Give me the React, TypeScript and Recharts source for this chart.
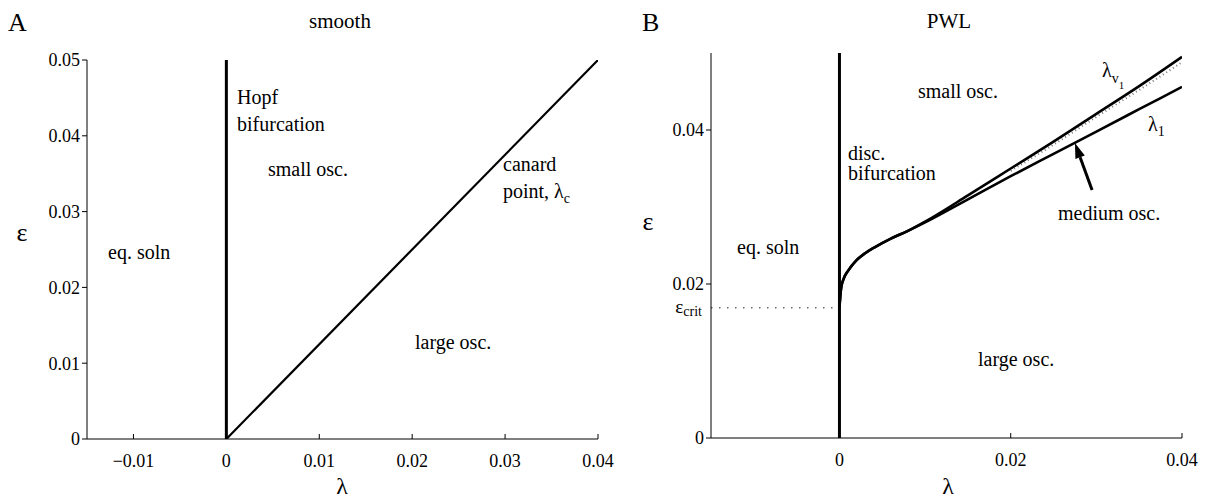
import React from "react";
import { LineChart, Line, XAxis, YAxis, ReferenceLine } from "recharts";

const SERIF = "Liberation Serif, DejaVu Serif, serif";

// panel A, smooth system
const smoothXTicks = [-0.01, 0, 0.01, 0.02, 0.03, 0.04];
const smoothYTicks = [0, 0.01, 0.02, 0.03, 0.04, 0.05];
const hopfLam = [0, 0];
const hopfEps = [0, 0.05];
const canardLam = [0, 0.04];
const canardEps = [0, 0.05];

// panel B, piecewise linear system
const pwlXTicks = [0, 0.02, 0.04];
const pwlYTicks = [0, 0.02, 0.04];
const discLam = [0, 0];
const discEps = [0, 0.05];
const epsCrit = 0.0169;
const critLam = [-0.015, 0];

const v1Lam = [0, 0.0002, 0.0005, 0.001, 0.002, 0.003, 0.004, 0.006, 0.008, 0.01, 0.015, 0.02, 0.025, 0.03, 0.035, 0.04];
const v1Eps = [0.017, 0.0195, 0.0207, 0.0217, 0.0231, 0.024, 0.0247, 0.0259, 0.0269, 0.0281, 0.0315, 0.035, 0.0385, 0.0421, 0.0457, 0.0495];

const l1Lam = [0, 0.0002, 0.0005, 0.001, 0.002, 0.003, 0.004, 0.006, 0.008, 0.01, 0.015, 0.02, 0.025, 0.03, 0.035, 0.04];
const l1Eps = [0.017, 0.0195, 0.0207, 0.0217, 0.0231, 0.024, 0.0247, 0.0259, 0.0269, 0.028, 0.031, 0.034, 0.0369, 0.0398, 0.0427, 0.0456];

const v1DotLam = [0.02, 0.025, 0.03, 0.035, 0.04];
const v1DotEps = [0.0347, 0.0381, 0.0417, 0.0452, 0.0488];

const arrowTail = { lam: 0.0295, eps: 0.0322 };
const arrowTip = { lam: 0.0275, eps: 0.0383 };

const zip = (lam: number[], eps: number[]) => lam.map((l, i) => ({ lam: l, eps: eps[i] }));

const fmt = (v: number) => (v === 0 ? "0" : v < 0 ? "\u2212" + Math.abs(v).toFixed(2) : v.toFixed(2));

const TICK_MARGIN = 10;

function BottomTick(props: any) {
  const { x, y, payload } = props;
  const axisY = y - TICK_MARGIN;
  return (
    <g>
      <line x1={x} y1={axisY} x2={x} y2={axisY - 5} stroke="#000" strokeWidth={1} />
      <text x={x} y={axisY + 28} textAnchor="middle" style={{ fontFamily: SERIF }} fontSize={18} fill="#000">
        {fmt(payload.value)}
      </text>
    </g>
  );
}

function ArrowShape(props: any) {
  const { x1, y1, x2, y2 } = props;
  const ang = Math.atan2(y2 - y1, x2 - x1);
  const len = 15;
  const half = 5;
  const bx = x2 - len * Math.cos(ang);
  const by = y2 - len * Math.sin(ang);
  const px = -Math.sin(ang) * half;
  const py = Math.cos(ang) * half;
  return (
    <g>
      <line x1={x1} y1={y1} x2={bx} y2={by} stroke="#000" strokeWidth={3} />
      <polygon points={`${x2},${y2} ${bx + px},${by + py} ${bx - px},${by - py}`} fill="#000" />
    </g>
  );
}

const yTick = { fontSize: 18, fontFamily: SERIF, fill: "#000" };

function Ann({ x, y, children, size = 20, anchor = "start" }: any) {
  return (
    <text x={x} y={y} style={{ fontFamily: SERIF }} fontSize={size} fill="#000" textAnchor={anchor}>
      {children}
    </text>
  );
}

export default function App() {
  return (
    <div style={{ position: "absolute", left: 0, top: 0, width: 1205, height: 501, background: "#fff", overflow: "hidden", fontFamily: SERIF }}>
      <div style={{ position: "absolute", left: 0, top: 0 }}>
        <LineChart width={640} height={501} margin={{ top: 60, right: 42, bottom: 22, left: 27 }}>
          <XAxis
            type="number" dataKey="lam" domain={[-0.015, 0.04]} ticks={smoothXTicks} interval={0}
            allowDataOverflow height={40} tickSize={0} tickMargin={TICK_MARGIN} tickLine={false}
            axisLine={{ stroke: "#000" }} tick={<BottomTick />}
          />
          <YAxis
            type="number" dataKey="eps" domain={[0, 0.05]} ticks={smoothYTicks} interval={0}
            allowDataOverflow width={60} tickSize={5} tickMargin={2} tickFormatter={fmt}
            axisLine={{ stroke: "#000" }} tickLine={{ stroke: "#000" }} tick={yTick}
          />
          <Line data={zip(hopfLam, hopfEps)} dataKey="eps" type="linear" stroke="#000" strokeWidth={3} dot={false} isAnimationActive={false} />
          <Line data={zip(canardLam, canardEps)} dataKey="eps" type="linear" stroke="#000" strokeWidth={2.2} dot={false} isAnimationActive={false} />
        </LineChart>
      </div>

      <div style={{ position: "absolute", left: 600, top: 0 }}>
        <LineChart width={605} height={501} margin={{ top: 53, right: 23, bottom: 23, left: 51 }}>
          <XAxis
            type="number" dataKey="lam" domain={[-0.015, 0.04]} ticks={pwlXTicks} interval={0}
            allowDataOverflow height={40} tickSize={0} tickMargin={TICK_MARGIN} tickLine={false}
            axisLine={{ stroke: "#000" }} tick={<BottomTick />}
          />
          <YAxis
            type="number" dataKey="eps" domain={[0, 0.05]} ticks={pwlYTicks} interval={0}
            allowDataOverflow width={60} tickSize={5} tickMargin={2} tickFormatter={fmt}
            axisLine={{ stroke: "#000" }} tickLine={{ stroke: "#000" }} tick={yTick}
          />
          <Line data={zip(critLam, [epsCrit, epsCrit])} dataKey="eps" type="linear" stroke="#666" strokeWidth={1.5} strokeDasharray="1.5 6.5" dot={false} isAnimationActive={false} />
          <Line data={zip(v1DotLam, v1DotEps)} dataKey="eps" type="monotone" stroke="#777" strokeWidth={2} strokeDasharray="1 3" dot={false} isAnimationActive={false} />
          <Line data={zip(v1Lam, v1Eps)} dataKey="eps" type="monotone" stroke="#000" strokeWidth={2.6} dot={false} isAnimationActive={false} />
          <Line data={zip(l1Lam, l1Eps)} dataKey="eps" type="monotone" stroke="#000" strokeWidth={2.6} dot={false} isAnimationActive={false} />
          <Line data={zip(discLam, discEps)} dataKey="eps" type="linear" stroke="#000" strokeWidth={3} dot={false} isAnimationActive={false} />
          <ReferenceLine
            segment={[{ x: arrowTail.lam, y: arrowTail.eps }, { x: arrowTip.lam, y: arrowTip.eps }]}
            shape={ArrowShape}
          />
        </LineChart>
      </div>

      <svg width={1205} height={501} style={{ position: "absolute", left: 0, top: 0, pointerEvents: "none" }}>
        <Ann x={8} y={31} size={26}>A</Ann>
        <Ann x={340} y={28} size={21} anchor="middle">smooth</Ann>
        <Ann x={642} y={31} size={26}>B</Ann>
        <Ann x={949} y={28} size={21} anchor="middle">PWL</Ann>

        <Ann x={22} y={241} size={26} anchor="middle">ε</Ann>
        <Ann x={342} y={494} size={24} anchor="middle">λ</Ann>
        <Ann x={648} y={230} size={26} anchor="middle">ε</Ann>
        <Ann x={948} y={494} size={24} anchor="middle">λ</Ann>

        <Ann x={237} y={104}>Hopf</Ann>
        <Ann x={237} y={131}>bifurcation</Ann>
        <Ann x={268} y={176}>small osc.</Ann>
        <Ann x={108} y={259}>eq. soln</Ann>
        <Ann x={503} y={171}>canard</Ann>
        <Ann x={503} y={198}>
          point, λ<tspan fontSize={14} dy={5}>c</tspan>
        </Ann>
        <Ann x={415} y={349}>large osc.</Ann>

        <Ann x={918} y={98}>small osc.</Ann>
        <Ann x={848} y={160}>disc.</Ann>
        <Ann x={848} y={180}>bifurcation</Ann>
        <Ann x={737} y={254}>eq. soln</Ann>
        <Ann x={978} y={366}>large osc.</Ann>
        <Ann x={1058} y={220}>medium osc.</Ann>
        <Ann x={1148} y={131}>
          λ<tspan fontSize={14} dy={5}>1</tspan>
        </Ann>
        <Ann x={1102} y={77}>
          λ<tspan fontSize={14} dy={6}>v</tspan><tspan fontSize={11} dy={6}>1</tspan>
        </Ann>
        <Ann x={702} y={313} size={19} anchor="end">
          ε<tspan fontSize={14} dy={3}>crit</tspan>
        </Ann>
      </svg>
    </div>
  );
}
